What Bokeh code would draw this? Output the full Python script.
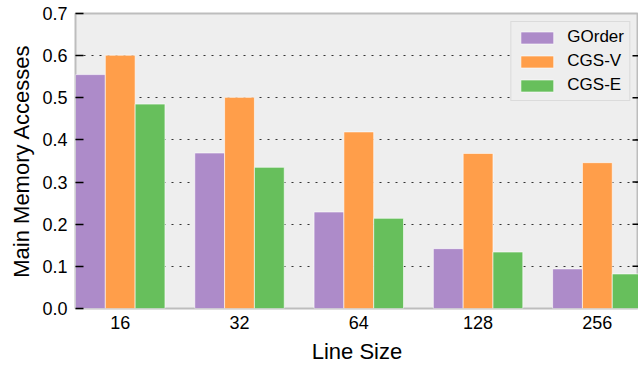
from bokeh.plotting import figure
from bokeh.models import (ColumnDataSource, Range1d, FixedTicker, Legend,
                          LegendItem, CustomJSTickFormatter)
from bokeh.embed import file_html
from bokeh.resources import INLINE

line_sizes = ["16", "32", "64", "128", "256"]
gorder = [0.555, 0.369, 0.229, 0.142, 0.094]
cgs_v = [0.601, 0.501, 0.419, 0.368, 0.346]
cgs_e = [0.485, 0.335, 0.214, 0.134, 0.082]
y_ticks = [0.0, 0.1, 0.2, 0.3, 0.4, 0.5, 0.6, 0.7]

series = [("GOrder", gorder, "#AD8BC9"), ("CGS-V", cgs_v, "#FF9E4A"), ("CGS-E", cgs_e, "#67BF5C")]
offsets = [-0.25, 0.0, 0.25]
bar_w = 0.25
X_START, X_END = -0.375, 4.345

FONT = "Liberation Sans"

p = figure(width=638, height=366, output_backend="svg", toolbar_location=None,
           x_range=Range1d(X_START, X_END), y_range=Range1d(0, 0.7),
           min_border_left=75, min_border_right=0, min_border_top=13, min_border_bottom=58)

p.background_fill_color = "#eeeeee"
p.border_fill_color = "white"
p.outline_line_color = "#bdbdbd"
p.outline_line_width = 2

renderers = []
idx = list(range(len(line_sizes)))
for (name, vals, color), off in zip(series, offsets):
    src = ColumnDataSource(dict(x=[i + off for i in idx], top=vals))
    r = p.vbar(x="x", top="top", width=bar_w, source=src, fill_color=color,
               line_color="white", line_alpha=0.6, line_width=1)
    renderers.append((name, r))

# right-side inward ticks (as dash markers clipped by the frame)
rt = ColumnDataSource(dict(x=[X_END] * 6, y=y_ticks[1:-1]))
p.scatter(x="x", y="y", source=rt, marker="dash", size=12, line_color="black", line_width=1.5)

# axes
p.xaxis.ticker = FixedTicker(ticks=idx)
p.xaxis.major_label_overrides = {i: s for i, s in zip(idx, line_sizes)}
p.xaxis.axis_label = "Line Size"
p.xaxis.axis_line_color = None
p.xaxis.major_tick_line_color = None
p.xaxis.minor_tick_line_color = None
p.xaxis.major_tick_in = 0
p.xaxis.major_tick_out = 0
p.xaxis.major_label_standoff = 7
p.xaxis.axis_label_standoff = 7

p.yaxis.ticker = FixedTicker(ticks=y_ticks)
p.yaxis.formatter = CustomJSTickFormatter(code="return tick.toFixed(1);")
p.yaxis.axis_label = "Main Memory Accesses"
p.yaxis.axis_line_color = None
p.yaxis.major_tick_in = 8
p.yaxis.major_tick_out = 0
p.yaxis.major_tick_line_color = "black"
p.yaxis.major_tick_line_width = 1.5
p.yaxis.minor_tick_line_color = None
p.yaxis.major_label_standoff = 8
p.yaxis.axis_label_standoff = 5

for ax in (p.xaxis[0], p.yaxis[0]):
    ax.major_label_text_font = FONT
    ax.major_label_text_font_size = "18px"
    ax.major_label_text_color = "black"
    ax.axis_label_text_font = FONT
    ax.axis_label_text_font_size = "22px"
    ax.axis_label_text_font_style = "normal"
    ax.axis_label_text_color = "black"

p.xgrid.grid_line_color = None
p.ygrid.grid_line_color = "#333333"
p.ygrid.grid_line_dash = "2 6"
p.ygrid.grid_line_width = 1.2
p.ygrid.ticker = FixedTicker(ticks=y_ticks[:-1])

legend = Legend(items=[LegendItem(label=n, renderers=[r]) for n, r in renderers],
                location="top_right")
legend.label_text_font = FONT
legend.label_text_font_size = "17px"
legend.label_text_color = "black"
legend.label_height = 20
legend.label_width = 10
legend.glyph_height = 15
legend.glyph_width = 41
legend.spacing = 4
legend.padding = 5
legend.margin = 8
legend.label_standoff = 10
legend.background_fill_color = "#eeeeee"
legend.background_fill_alpha = 1
legend.border_line_color = "#c8c8c8"
legend.border_line_width = 1.2
p.add_layout(legend)

open("out.html", "w").write(file_html(p, INLINE))
